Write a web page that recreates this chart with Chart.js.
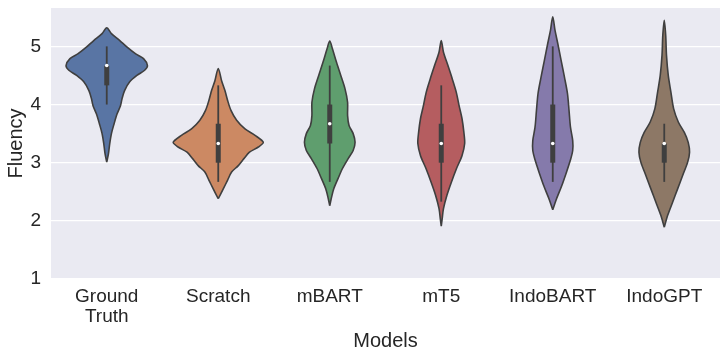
<!DOCTYPE html>
<html>
<head>
<meta charset="utf-8">
<script src="https://cdn.jsdelivr.net/npm/chart.js@4.4.0/dist/chart.umd.min.js"></script>
<style>
  html, body { margin: 0; padding: 0; background: #fff; }
  #wrap { width: 727px; height: 357px; }
</style>
</head>
<body>
<div id="wrap"><canvas id="violinChart"></canvas></div>
<script>
// categories on the x axis
var categories = [["Ground", "Truth"], "Scratch", "mBART", "mT5", "IndoBART", "IndoGPT"];
var yTicks = [1, 2, 3, 4, 5];

// violin outlines: fluency levels and half widths (in category units)
var gtLevels = [3.01, 3.15, 3.33, 3.50, 3.67, 3.84, 3.98, 4.10, 4.24, 4.39, 4.50, 4.59, 4.67, 4.79, 4.87, 4.99, 5.10, 5.22, 5.32];
var gtWidths = [0, 0.015, 0.027, 0.042, 0.066, 0.093, 0.123, 0.137, 0.16, 0.206, 0.27, 0.34, 0.365, 0.33, 0.26, 0.18, 0.117, 0.042, 0];

var scratchLevels = [2.38, 2.55, 2.70, 2.84, 2.95, 3.07, 3.18, 3.27, 3.35, 3.47, 3.58, 3.73, 3.90, 4.07, 4.24, 4.41, 4.62];
var scratchWidths = [0, 0.045, 0.084, 0.12, 0.18, 0.23, 0.28, 0.36, 0.404, 0.33, 0.24, 0.165, 0.114, 0.084, 0.06, 0.03, 0];

var mbartLevels = [2.26, 2.38, 2.55, 2.73, 2.90, 3.07, 3.21, 3.35, 3.50, 3.64, 3.81, 4.04, 4.27, 4.50, 4.73, 4.96, 5.09];
var mbartWidths = [0, 0.013, 0.036, 0.075, 0.114, 0.165, 0.21, 0.227, 0.21, 0.173, 0.16, 0.16, 0.137, 0.099, 0.06, 0.024, 0];

var mt5Levels = [1.91, 2.03, 2.21, 2.44, 2.66, 2.90, 3.12, 3.33, 3.52, 3.76, 3.98, 4.21, 4.44, 4.67, 4.90, 5.10];
var mt5Widths = [0, 0.008, 0.02, 0.051, 0.09, 0.137, 0.186, 0.21, 0.203, 0.186, 0.16, 0.135, 0.099, 0.06, 0.02, 0];

var indobartLevels = [2.19, 2.36, 2.59, 2.82, 3.05, 3.21, 3.38, 3.61, 3.90, 4.19, 4.47, 4.76, 5.05, 5.28, 5.51];
var indobartWidths = [0, 0.03, 0.078, 0.12, 0.159, 0.179, 0.179, 0.159, 0.146, 0.132, 0.105, 0.075, 0.045, 0.02, 0];

var indogptLevels = [1.89, 2.09, 2.32, 2.55, 2.78, 3.01, 3.18, 3.35, 3.52, 3.70, 3.93, 4.21, 4.50, 4.85, 5.19, 5.45];
var indogptWidths = [0, 0.03, 0.075, 0.12, 0.165, 0.21, 0.227, 0.215, 0.18, 0.126, 0.084, 0.06, 0.036, 0.02, 0.013, 0];

// inner box stats
var whiskerLow  = [4.00, 2.67, 2.67, 2.33, 2.67, 2.67];
var whiskerHigh = [5.00, 4.33, 4.67, 4.33, 5.00, 3.67];
var q1 = [4.33, 3.00, 3.33, 3.00, 3.00, 3.00];
var q3 = [4.67, 3.67, 4.00, 3.67, 4.00, 3.33];
var medians = [4.67, 3.33, 3.67, 3.33, 3.33, 3.33];

var colours = ["#5975a4", "#cc8963", "#5f9e6e", "#b55d60", "#857aab", "#8d7866"];

var levels = [gtLevels, scratchLevels, mbartLevels, mt5Levels, indobartLevels, indogptLevels];
var widths = [gtWidths, scratchWidths, mbartWidths, mt5Widths, indobartWidths, indogptWidths];

var edge = "#3f3f3f";
var fontFamily = "'Liberation Sans', Arial, sans-serif";

var datasets = [];

for (var i = 0; i < categories.length; i++) {
  var lv = levels[i], wd = widths[i];
  var pts = [];
  // right side going up
  for (var k = 0; k < lv.length; k++) {
    pts.push({x: i + wd[k], y: lv[k]});
  }
  // left side going down, back to the bottom tip
  for (var k = lv.length - 2; k >= 0; k--) {
    pts.push({x: i - wd[k], y: lv[k]});
  }
  datasets.push({
    data: pts,
    showLine: true,
    fill: 'shape',
    backgroundColor: colours[i],
    borderColor: edge,
    borderWidth: 1.6,
    pointRadius: 0,
    tension: 0.3,
    order: 3
  });
  datasets.push({
    data: [{x: i, y: whiskerLow[i]}, {x: i, y: whiskerHigh[i]}],
    showLine: true,
    borderColor: edge,
    borderWidth: 1.8,
    pointRadius: 0,
    order: 2
  });
  datasets.push({
    data: [{x: i, y: q1[i]}, {x: i, y: q3[i]}],
    showLine: true,
    borderColor: edge,
    borderWidth: 5,
    borderCapStyle: 'butt',
    pointRadius: 0,
    order: 1
  });
  datasets.push({
    data: [{x: i, y: medians[i]}],
    pointRadius: 1.8,
    pointBackgroundColor: "#ffffff",
    pointBorderWidth: 0,
    order: 0
  });
}

var plotBg = {
  id: 'plotBg',
  beforeDraw: function(chart) {
    var a = chart.chartArea, c = chart.ctx;
    c.save();
    c.fillStyle = "#eaeaf2";
    c.fillRect(a.left, a.top, a.right - a.left, a.bottom - a.top);
    c.restore();
  }
};

var ctx = document.getElementById("violinChart").getContext("2d");
new Chart(ctx, {
  type: 'scatter',
  data: { datasets: datasets },
  plugins: [plotBg],
  options: {
    responsive: true,
    maintainAspectRatio: false,
    animation: false,
    layout: { padding: { top: 8, right: 7, left: 0, bottom: 0 } },
    plugins: { legend: { display: false }, tooltip: { enabled: false } },
    scales: {
      x: {
        type: 'linear',
        min: -0.5,
        max: 5.5,
        afterBuildTicks: function(scale) {
          scale.ticks = categories.map(function(c, j) { return {value: j}; });
        },
        afterFit: function(scale) {
          scale.height = 78;
          scale.paddingLeft = 0;
          scale.paddingRight = 0;
        },
        grid: { display: false },
        border: { display: false },
        ticks: {
          autoSkip: false,
          maxRotation: 0,
          padding: 0,
          color: "#262626",
          font: { family: fontFamily, size: 19, lineHeight: 1.05 },
          callback: function(v) { return categories[v]; }
        },
        title: {
          display: true,
          text: "Models",
          color: "#262626",
          padding: { top: 0 },
          font: { family: fontFamily, size: 20 }
        }
      },
      y: {
        min: 1,
        max: 5.66,
        afterBuildTicks: function(scale) {
          scale.ticks = yTicks.map(function(v) { return {value: v}; });
        },
        afterFit: function(scale) {
          scale.width = 51;
          scale.paddingTop = 0;
          scale.paddingBottom = 0;
        },
        grid: { color: "#ffffff", lineWidth: 1.3, drawTicks: false },
        border: { display: false },
        ticks: {
          padding: 10,
          color: "#262626",
          font: { family: fontFamily, size: 19 }
        },
        title: {
          display: true,
          text: "Fluency",
          color: "#262626",
          padding: { bottom: 0 },
          font: { family: fontFamily, size: 20 }
        }
      }
    }
  }
});
</script>
</body>
</html>
